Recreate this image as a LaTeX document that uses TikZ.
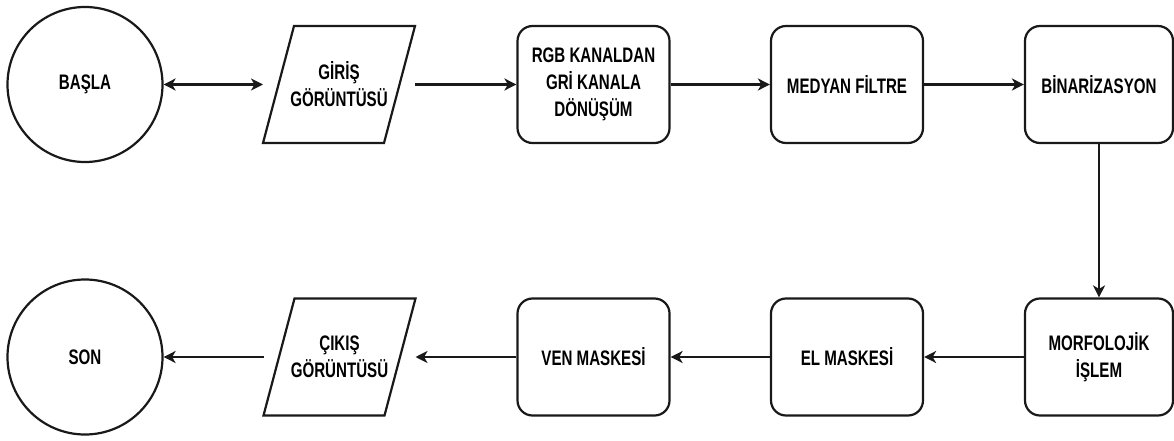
\documentclass[tikz,border=0pt]{standalone}
\usepackage{fontspec}
\setmainfont{Liberation Sans}[FakeStretch=0.72]
\usetikzlibrary{arrows.meta,calc}
\begin{document}
\begin{tikzpicture}[x=1pt,y=-1pt,
  every node/.style={font=\fontsize{21}{27}\selectfont\bfseries, align=center, text=black},
  proc/.style={draw=black!90, line width=2.2pt, rounded corners=15pt, minimum width=152pt, minimum height=117pt, inner sep=0pt},
  io/.style={minimum width=152pt, minimum height=117pt, inner sep=0pt, outer sep=0pt},
  term/.style={draw=black!90, circle, line width=2.2pt, minimum size=155pt, inner sep=0pt},
  tip/.style={},
  conn/.style={line width=2.2pt, draw=black!90, -{Stealth[length=12pt,width=12pt,inset=3.5pt]}},
  iobox/.style={line width=2.2pt, draw=black!90}]
\useasboundingbox (0,0) rectangle (1174,441);
% top row
\node[term] (start) at (85,84.5) {BAŞLA};
\node[io] (in) at (339,84.5) {GİRİŞ\\GÖRÜNTÜSÜ};
\draw[iobox] ($(in.north west)+(31,0)$) -- (in.north east) -- ($(in.south east)+(-31,0)$) -- (in.south west) -- cycle;
\node[proc] (gray) at (593.5,84.5) {RGB KANALDAN\\GRİ KANALA\\DÖNÜŞÜM};
\node[proc] (med) at (847,84.5) {MEDYAN FİLTRE};
\node[proc, minimum width=148pt] (bin) at (1099,84.5) {BİNARİZASYON};
% bottom row
\node[term] (end) at (85,357) {SON};
\node[io] (out) at (339.5,357) {ÇIKIŞ\\GÖRÜNTÜSÜ};
\draw[iobox] ($(out.north west)+(31,0)$) -- (out.north east) -- ($(out.south east)+(-31,0)$) -- (out.south west) -- cycle;
\node[proc] (ven) at (593.5,357) {VEN MASKESİ};
\node[proc] (el) at (847,357) {EL MASKESİ};
\node[proc, minimum width=148pt] (morf) at (1099,357) {MORFOLOJİK\\İŞLEM};
% connectors
\draw[conn, {Stealth[length=12pt,width=12pt,inset=3.5pt]}-{Stealth[length=12pt,width=12pt,inset=3.5pt]}] (start) -- (in.west);
\draw[conn] (in.east) -- (gray.west);
\draw[conn] (gray.east) -- (med.west);
\draw[conn] (med.east) -- (bin.west);
\draw[conn] (bin.south) -- (morf.north);
\draw[conn] (morf.west) -- (el.east);
\draw[conn] (el.west) -- (ven.east);
\draw[conn] (ven.west) -- (out.east);
\draw[conn] (out.west) -- (end);
\end{tikzpicture}
\end{document}
